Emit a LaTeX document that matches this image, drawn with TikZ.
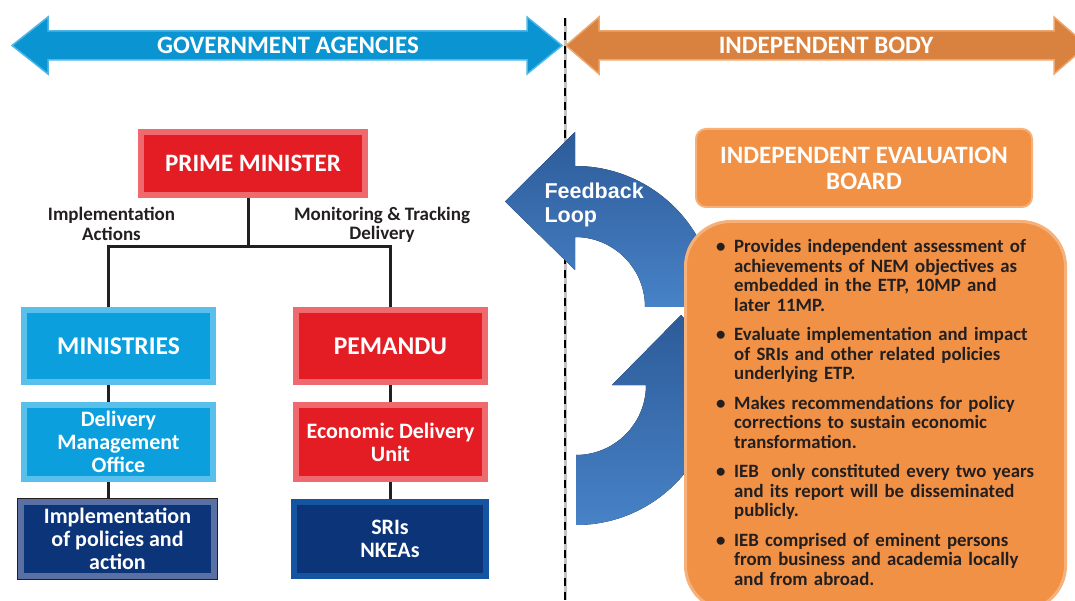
\documentclass[tikz,border=0pt]{standalone}
\usepackage{fontspec}
\setmainfont{Carlito}
\newfontfamily\loopfont{Liberation Sans}

\definecolor{govblue}{HTML}{0A94D2}
\definecolor{govlight}{HTML}{4DB8E8}
\definecolor{indorange}{HTML}{D9823F}
\definecolor{indlight}{HTML}{EDA870}
\definecolor{pmred}{HTML}{E41D25}
\definecolor{pmlight}{HTML}{EE6A6E}
\definecolor{minblue}{HTML}{0BA0DD}
\definecolor{minlight}{HTML}{58C0EA}
\definecolor{navy}{HTML}{0C3479}
\definecolor{navylight}{HTML}{5A6FA3}
\definecolor{srilight}{HTML}{1554A0}
\definecolor{fbtop}{HTML}{2D5B98}
\definecolor{fbbottom}{HTML}{4782C7}
\definecolor{ieborange}{HTML}{F09145}
\definecolor{ieblight}{HTML}{F6B07A}
\definecolor{linkgray}{HTML}{231F20}
\definecolor{darktext}{HTML}{231F20}
\definecolor{dividergray}{HTML}{C4C4C4}

\newcommand{\iebitem}[1]{\noindent\makebox[18pt][l]{\textbullet}\parbox[t]{322pt}{\raggedright\strut #1\strut}\par\nointerlineskip\vspace{10pt}}

\begin{document}
\begin{tikzpicture}[x=1pt,y=1pt,
  bevel/.style 2 args={fill=#1,draw=#2,line width=6pt,text=white,align=center,inner sep=0pt},
  boxfont/.style={font=\bfseries\fontsize{#1}{23}\selectfont},
  link/.style={draw=linkgray,line width=3pt},
  headarrow/.style 2 args={fill=#1,draw=#2,line width=1.5pt},
  headtext/.style={text=white,font=\bfseries\fontsize{25}{26}\selectfont},
  colnote/.style={text=darktext,align=center,font=\bfseries\fontsize{19}{19.5}\selectfont},
  loopblue/.style={top color=fbtop,bottom color=fbbottom,draw=none}]
  \useasboundingbox (0,0) rectangle (1075,600);

  %divider
  \draw[line width=3pt,dividergray] (565,582) -- (565,0);
  \draw[line width=2.2pt,black,dash pattern=on 8pt off 6pt] (565,582) -- (565,0);

  %header arrows
  \draw[headarrow={govblue}{govlight}] (12,554.5) -- (48,583) -- (48,569) -- (527,569) -- (527,583)
    -- (562,554.5) -- (527,526) -- (527,540) -- (48,540) -- (48,526) -- cycle; %左の矢印
  \node[headtext] (govtext) at (288,554.5) {GOVERNMENT AGENCIES};
  \draw[headarrow={indorange}{indlight}] (566,554.5) -- (599,583) -- (599,569) -- (1054,569) -- (1054,583)
    -- (1087,554.5) -- (1054,526) -- (1054,540) -- (599,540) -- (599,526) -- cycle; %右の矢印
  \node[headtext] (indtext) at (826,554.5) {INDEPENDENT BODY};

  %feedback loop
  \fill[loopblue] (645,293) arc[start angle=0,end angle=90,radius=70pt] -- (575,330) -- (505,398.5)
    -- (575,468) -- (575,434) arc[start angle=90,end angle=0,radius=141pt] -- cycle; %上の矢印
  \fill[loopblue] (576,145) arc[start angle=-90,end angle=0,radius=70pt] -- (612,215) -- (681,285)
    -- (750,215) -- (716,215) arc[start angle=0,end angle=-90,radius=140pt] -- cycle; %下の矢印
  \node[text=white,align=left,anchor=west,font=\loopfont\bfseries\fontsize{21.5}{24}\selectfont] (looptext) at (541,395) {Feedback\\Loop};

  %independent evaluation board
  \node[fill=ieborange,draw=ieblight,line width=2pt,rounded corners=10pt,minimum width=336pt,minimum height=78pt,
    text=white,align=center,font=\bfseries\fontsize{25}{26}\selectfont] (ieb) at (864,432) {INDEPENDENT EVALUATION\\BOARD};
  \node[fill=ieborange,draw=ieblight,line width=3pt,rounded corners=45pt,minimum width=380pt,minimum height=389pt] (panel) at (875.5,184) {};
  \node[anchor=north west,text width=345pt,align=left,inner sep=0pt,text=darktext,
    font=\bfseries\fontsize{18.8}{19.5}\selectfont] (items) at (716,361) {%
    \iebitem{Provides independent assessment of\\achievements of NEM objectives as\\embedded in the ETP, 10MP and\\later 11MP.}
    \iebitem{Evaluate implementation and impact\\of SRIs and other related policies\\underlying ETP.}
    \iebitem{Makes recommendations for policy\\corrections to sustain economic\\transformation.}
    \iebitem{IEB~ only constituted every two years\\and its report will be disseminated\\publicly.}
    \iebitem{IEB comprised of eminent persons\\from business and academia locally\\and from abroad.}};

  %government agencies
  \node[bevel={pmred}{pmlight},boxfont=25,minimum width=224pt,minimum height=63pt] (pm) at (253,436.5) {PRIME MINISTER};
  \node[bevel={minblue}{minlight},boxfont=25.5,minimum width=189pt,minimum height=72pt] (min) at (118.5,254) {MINISTRIES};
  \node[bevel={minblue}{minlight},boxfont=22,minimum width=189pt,minimum height=74pt] (dmo) at (118.5,158) {Delivery\\Management\\Office};
  \node[bevel={navy}{navylight},boxfont=22,minimum width=193pt,minimum height=74pt] (impl) at (117.5,61) {Implementation\\of policies and\\action};
  \node[bevel={pmred}{pmlight},boxfont=25.5,minimum width=189pt,minimum height=72pt] (pem) at (390.5,254) {PEMANDU};
  \node[bevel={pmred}{pmlight},boxfont=22,minimum width=189pt,minimum height=74pt] (edu) at (390.5,158) {Economic Delivery\\Unit};
  \node[bevel={navy}{srilight},boxfont=22,minimum width=192pt,minimum height=74pt] (sri) at (390,61) {SRIs\\NKEAs};
  \draw[linkgray,line width=1.2pt] ([shift={(-0.4,0.4)}]impl.north west) rectangle ([shift={(0.4,-0.4)}]impl.south east); %外枠

  \node[colnote] (implnote) at (111.5,376) {Implementation\\Actions};
  \node[colnote] (monnote) at (382,375) {Monitoring \& Tracking\\Delivery};

  %connectors
  \draw[link] ([xshift=-5pt]pm.south) -- (248,353) coordinate (fork);
  \draw[link] ([xshift=-10pt]min.north) |- (fork) -| (pem.north);
  \draw[link] ([xshift=-10pt]min.south) -- ([xshift=-10pt]dmo.north);
  \draw[link] ([xshift=-10pt]dmo.south) -- ([xshift=-9pt]impl.north);
  \draw[link] (pem.south) -- (edu.north);
  \draw[link] (edu.south) -- ([xshift=0.5pt]sri.north);
\end{tikzpicture}
\end{document}
